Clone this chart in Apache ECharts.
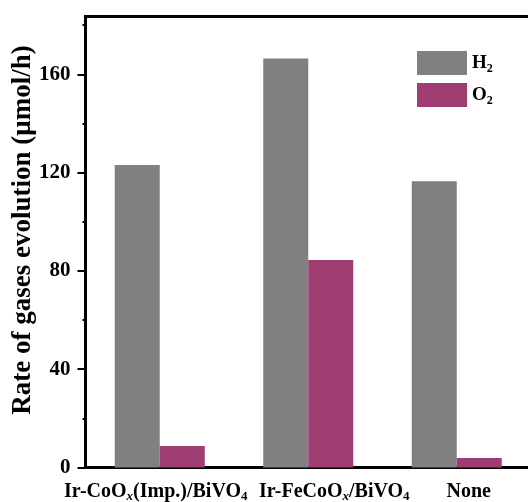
<!DOCTYPE html>
<html>
<head>
<meta charset="utf-8">
<script src="https://cdn.jsdelivr.net/npm/echarts@6/dist/echarts.min.js"></script>
<style>
  html, body { margin: 0; padding: 0; background: #fff; }
  #chart { width: 528px; height: 502px; }
</style>
</head>
<body>
<div id="chart"></div>
<script>
// Photocatalytic gas evolution rates per sample
const categories = ['Ir-CoOx(Imp.)/BiVO4', 'Ir-FeCoOx/BiVO4', 'None'];
const h2Rates = [123.1, 166.4, 116.5];
const o2Rates = [8.7, 84.4, 3.9];
const majorTicks = [0, 40, 80, 120, 160];
const minorTicks = [20, 60, 100, 140, 180];

// Rich-text versions of the category names (subscripts) with a small horizontal nudge
const categoryRich = {
  'Ir-CoOx(Imp.)/BiVO4': 'Ir-CoO{sx|x}(Imp.)/BiVO{sb|4}{sp1| }',
  'Ir-FeCoOx/BiVO4': '{sp2| }Ir-FeCoO{sx|x}/BiVO{sb|4}',
  'None': '{sp3| }None'
};

const serif = '"Liberation Serif", "Times New Roman", serif';
const subStyles = {
  sx: { fontFamily: serif, fontWeight: 'bold', fontStyle: 'italic', fontSize: 13, verticalAlign: 'bottom', lineHeight: 12, color: '#000' },
  sb: { fontFamily: serif, fontWeight: 'bold', fontSize: 13, verticalAlign: 'bottom', lineHeight: 12, color: '#000' },
  sp1: { width: 8 },
  sp2: { width: 52 },
  sp3: { width: 24 }
};

const chart = echarts.init(document.getElementById('chart'));
chart.setOption({
  animation: false,
  backgroundColor: '#fff',
  grid: {
    left: 85.5, top: 16.5, width: 445.5, height: 451,
    containLabel: false,
    outerBoundsMode: 'none',
    show: true, borderColor: '#000', borderWidth: 3, backgroundColor: 'transparent'
  },
  legend: {
    orient: 'vertical',
    left: 412, top: 46,
    itemWidth: 50, itemHeight: 24, itemGap: 8,
    icon: 'rect',
    data: ['H2', 'O2'],
    formatter: function (name) { return name.charAt(0) + '{sb|2}'; },
    textStyle: {
      fontFamily: serif, fontWeight: 'bold', fontSize: 19, color: '#000', lineHeight: 24,
      rich: {
        sb: { fontFamily: serif, fontWeight: 'bold', fontSize: 12, verticalAlign: 'bottom', lineHeight: 14, color: '#000' }
      }
    }
  },
  xAxis: {
    type: 'category',
    data: categories,
    axisLine: { lineStyle: { color: '#000', width: 3 } },
    axisTick: { show: false },
    axisLabel: {
      interval: 0,
      margin: 12,
      fontFamily: serif, fontWeight: 'bold', fontSize: 20, color: '#000', lineHeight: 24,
      formatter: function (v) { return categoryRich[v]; },
      rich: subStyles
    }
  },
  yAxis: [{
    type: 'value',
    min: 0, max: 183.5,
    axisLine: { show: true, lineStyle: { color: '#000', width: 3 } },
    axisTick: { show: true, inside: false, length: 8, lineStyle: { color: '#000', width: 2 }, customValues: majorTicks },
    axisLabel: {
      margin: 15, customValues: majorTicks,
      fontFamily: serif, fontWeight: 'bold', fontSize: 21, color: '#000'
    },
    splitLine: { show: false }
  }, {
    type: 'value',
    position: 'left',
    min: 0, max: 183.5,
    axisLine: { show: false },
    axisTick: { show: true, inside: false, length: 3, lineStyle: { color: '#000', width: 2 }, customValues: minorTicks },
    axisLabel: { show: false },
    splitLine: { show: false }
  }],
  graphic: [{
    type: 'text',
    x: 23, y: 230,
    rotation: Math.PI / 2,
    style: {
      text: 'Rate of gases evolution (μmol/h)',
      fontFamily: serif, fontWeight: 'bold', fontSize: 27, fill: '#000',
      align: 'center', verticalAlign: 'middle'
    }
  }],
  series: [{
    name: 'H2',
    type: 'bar',
    data: h2Rates,
    barWidth: 45,
    barGap: '0%',
    itemStyle: { color: '#808080' }
  }, {
    name: 'O2',
    type: 'bar',
    data: o2Rates,
    barWidth: 45,
    itemStyle: { color: '#9D3D72' }
  }]
});
</script>
</body>
</html>
